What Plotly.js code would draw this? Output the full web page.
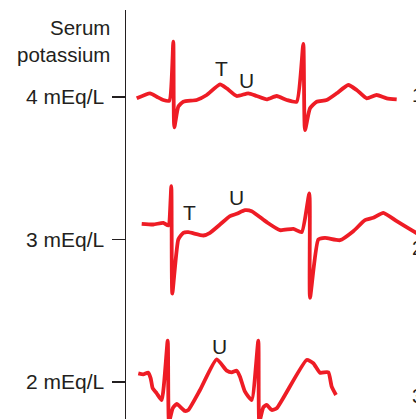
<!DOCTYPE html>
<html>
<head>
<meta charset="utf-8">
<script src="https://cdn.plot.ly/plotly-3.0.1.min.js"></script>
<style>
  html, body { margin: 0; padding: 0; background: #fff; }
  #chart { width: 416px; height: 419px; }
</style>
</head>
<body>
<div id="chart"></div>
<script>
// Serum potassium levels (mEq/L) and tick labels
const levels = [4, 3, 2];
const tickLabels = ["4 mEq/L", "3 mEq/L", "2 mEq/L"];
const traceNumbers = ["1", "2", "3"];

// ECG traces: time (arbitrary units) and deflection (amplitude units above baseline)
const ecg4Time = [10.7, 24, 30.7, 37.3, 43.3, 47.3, 48.3, 52.3, 57.3, 70.7, 80.7, 94, 100.7, 110.7, 122.3, 130.7, 140.7, 150.7, 160.7, 170.7, 177.3, 179, 184, 190.7, 200.7, 210.7, 222.3, 230.7, 240.7, 250.7, 260.7, 270.7];
const ecg4Amp  = [-1.3, 3.7, 0.3, -3, -3.7, 55.3, -30.3, -9.7, -4.7, -3, 2, 12.7, 8.7, 1, 3.7, 1, -2.3, 1, -3, -4.7, 53, -33, -11.3, -4.7, -3, 3.7, 12, 7, -1.3, 2, -1.3, -2.3];

const ecg3Time = [15.7, 27.3, 37.3, 42.3, 45.3, 46.3, 52.3, 57.3, 62.3, 77.3, 84, 94, 104, 110.7, 119, 125.7, 140.7, 154, 167.3, 175.7, 183.3, 184, 192.3, 199, 214, 227.3, 239, 247.3, 257.3, 270.7, 290, 299];
const ecg3Amp  = [15.7, 15, 16.7, 14, 53.3, -54, 0, 6.7, 7.3, 4, 6.7, 15, 23.3, 25.7, 29.3, 28.3, 17.3, 9.3, 10.7, 7.3, 46, -58.3, 0, 1.7, -0.7, 8.3, 19.3, 21.7, 26.7, 18.3, 6.7, 2];

const ecg2Time = [12.3, 17.3, 22.3, 24.7, 26.7, 30.7, 35.7, 41.7, 43, 46.7, 50.7, 59, 62.3, 74, 90.7, 100.7, 105.7, 110.7, 114, 119, 125.7, 132.3, 133.3, 137.3, 140.7, 145.7, 150.7, 180.7, 187.3, 194, 202.3, 205.7, 210];
const ecg2Amp  = [8.7, 7.7, 9.3, 3.7, -6.3, -11.3, -18, 41.3, -40, -26.3, -22, -29, -28, -8, 22.7, 11.3, 9.7, 11.3, 5.3, -9.7, -18, 41.3, -40, -25.3, -23, -28, -26.3, 22, 18.7, 9.3, 9.7, -4.7, -13];

// Wave labels: level index, time, amplitude, text
const waveLabelLevel = [0, 0, 1, 1, 2];
const waveLabelTime  = [95.7, 120.7, 63.3, 110.7, 93.3];
const waveLabelAmp   = [29, 17, 26.7, 41.7, 36];
const waveLabelText  = ["T", "U", "T", "U", "U"];

const numberTime = [283.5, 283.5, 283.5];
const numberAmp  = [2, -8, -14];

const ampPerUnit = 142.5; // amplitude units per mEq/L on the axis
const red = "#ee1c25";
const ink = "#231f20";
const font = "Liberation Sans, Arial, Helvetica, sans-serif";

const series = [[ecg4Time, ecg4Amp], [ecg3Time, ecg3Amp], [ecg2Time, ecg2Amp]];
const data = series.map((s, i) => ({
  x: s[0],
  y: s[1].map(a => levels[i] + a / ampPerUnit),
  type: "scatter",
  mode: "lines",
  line: { color: red, width: 3.8, shape: "spline", smoothing: 0.5 },
  hoverinfo: "skip",
  showlegend: false
}));

const annotations = [];
waveLabelText.forEach((t, k) => {
  annotations.push({
    x: waveLabelTime[k], y: levels[waveLabelLevel[k]] + waveLabelAmp[k] / ampPerUnit,
    xref: "x", yref: "y", text: t, showarrow: false,
    xanchor: "center", yanchor: "middle",
    font: { family: font, size: 21, color: ink }
  });
});
traceNumbers.forEach((t, k) => {
  annotations.push({
    x: numberTime[k], y: levels[k] + numberAmp[k] / ampPerUnit,
    xref: "x", yref: "y", text: t, showarrow: false,
    xanchor: "left", yanchor: "middle",
    font: { family: font, size: 20, color: ink }
  });
});
annotations.push({
  x: -0.048, y: 0.99, xref: "paper", yref: "paper", text: "Serum<br>potassium", showarrow: false,
  xanchor: "right", yanchor: "top", align: "right",
  font: { family: font, size: 20.5, color: ink }
});

const layout = {
  width: 416, height: 419,
  margin: { l: 126, r: 0, t: 10, b: 0, pad: 0 },
  paper_bgcolor: "#fff", plot_bgcolor: "#fff",
  showlegend: false,
  xaxis: { range: [0, 290], visible: false, fixedrange: true },
  yaxis: {
    range: [1.7404, 4.6105],
    tickvals: levels, ticktext: tickLabels,
    ticks: "outside", ticklen: 13, tickwidth: 1.3, tickcolor: ink,
    showline: true, linecolor: ink, linewidth: 1.5,
    showgrid: false, zeroline: false,
    tickfont: { family: font, size: 21, color: ink },
    ticklabelstandoff: 3,
    fixedrange: true
  },
  annotations: annotations
};

Plotly.newPlot("chart", data, layout, { displayModeBar: false, staticPlot: true });
</script>
</body>
</html>
